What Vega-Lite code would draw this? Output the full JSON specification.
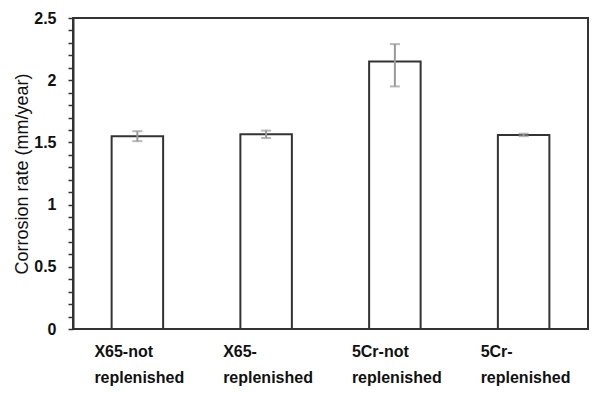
{
  "$schema": "https://vega.github.io/schema/vega-lite/v6.json",
  "width": 515,
  "height": 311,
  "autosize": {"type": "none"},
  "padding": {"left": 73, "top": 18, "right": 22, "bottom": 65},
  "background": "white",
  "data": {
    "values": [
      {"sample": "X65-not replenished", "rate": 1.55, "low": 1.51, "high": 1.59},
      {"sample": "X65-replenished", "rate": 1.565, "low": 1.535, "high": 1.595},
      {"sample": "5Cr-not replenished", "rate": 2.15, "low": 1.95, "high": 2.29},
      {"sample": "5Cr-replenished", "rate": 1.56, "low": 1.55, "high": 1.57}
    ]
  },
  "encoding": {
    "x": {
      "field": "sample",
      "type": "nominal",
      "sort": null,
      "scale": {"paddingInner": 0.6, "paddingOuter": 0.3},
      "axis": {
        "title": null,
        "domain": false,
        "ticks": false,
        "labelAngle": 0,
        "labelAlign": "left",
        "labelOffset": -43,
        "labelBaseline": "top",
        "labelPadding": 14,
        "labelLineHeight": 26,
        "labelFont": "Liberation Sans",
        "labelFontSize": 16,
        "labelFontWeight": "bold",
        "labelColor": "#111",
        "labelExpr": "indexof(datum.label,' ')>0 ? split(datum.label,' ') : [slice(datum.label,0,4), slice(datum.label,4)]"
      }
    }
  },
  "layer": [
    {
      "mark": {"type": "bar", "fill": "white", "stroke": "#333333", "strokeWidth": 2},
      "encoding": {
        "y": {
          "field": "rate",
          "type": "quantitative",
          "scale": {"domain": [0, 2.5], "nice": false},
          "axis": {
            "title": "Corrosion rate (mm/year)",
            "titleFont": "Liberation Sans",
            "titleFontSize": 18,
            "titleFontWeight": "normal",
            "titleColor": "#111",
            "titlePadding": 2,
            "tickCount": 40,
            "values": [0, 0.1, 0.2, 0.3, 0.4, 0.5, 0.6, 0.7, 0.8, 0.9, 1, 1.1, 1.2, 1.3, 1.4, 1.5, 1.6, 1.7, 1.8, 1.9, 2, 2.1, 2.2, 2.3, 2.4, 2.5],
            "labelExpr": "(round(datum.value*10) % 5 == 0) ? format(datum.value, '~g') : ''",
            "labelOverlap": false,
            "labelFont": "Liberation Sans",
            "labelFontSize": 16,
            "labelFontWeight": "bold",
            "labelColor": "#111",
            "labelPadding": 12,
            "tickSize": 5,
            "tickColor": "#333333",
            "tickWidth": 1.5,
            "domainColor": "#333333",
            "domainWidth": 2,
            "grid": false
          }
        }
      }
    },
    {
      "mark": {"type": "rule", "color": "#999999", "strokeWidth": 2},
      "encoding": {
        "y": {"field": "low", "type": "quantitative"},
        "y2": {"field": "high"}
      }
    },
    {
      "mark": {"type": "tick", "color": "#999999", "size": 10, "thickness": 2},
      "encoding": {"y": {"field": "low", "type": "quantitative"}}
    },
    {
      "mark": {"type": "tick", "color": "#999999", "size": 10, "thickness": 2},
      "encoding": {"y": {"field": "high", "type": "quantitative"}}
    }
  ],
  "config": {
    "view": {"stroke": "#333333", "strokeWidth": 2}
  }
}
